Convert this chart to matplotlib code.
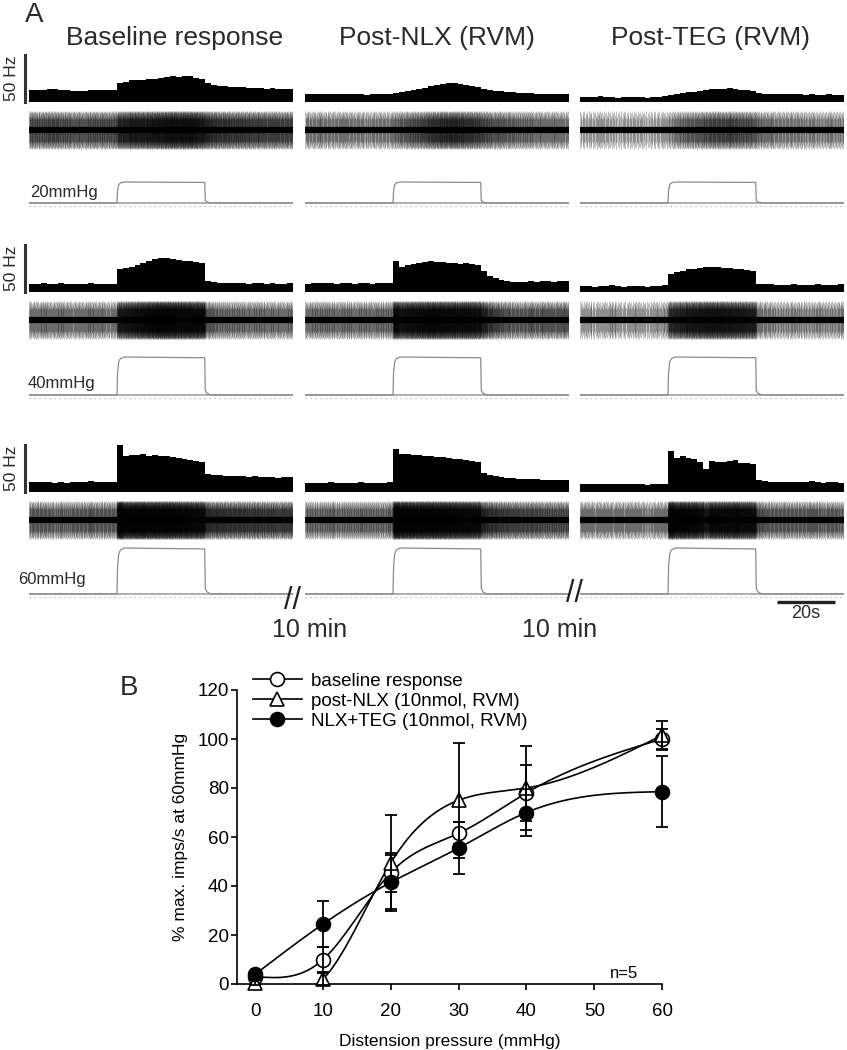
import numpy as np
import matplotlib
matplotlib.use('Agg')
import matplotlib.pyplot as plt
from matplotlib.lines import Line2D

plt.rcParams['font.family'] = ['Liberation Sans', 'DejaVu Sans']

# ---------------- panel A data (2-s bins, Hz), 90 s per sweep ----------------
bin_s = 2
stim_on, stim_off = 30, 60
col_titles = ['Baseline response', 'Post-NLX (RVM)', 'Post-TEG (RVM)']
row_pressures = [20, 40, 60]  # mmHg

rate_20_base = [13, 13, 13, 14, 14, 13, 13, 12, 12, 12, 13, 13, 13, 13, 13,
                20, 21, 23, 23, 23, 24, 25, 26, 27, 28, 27, 28, 28, 26, 24,
                20, 18, 17, 17, 16, 16, 16, 15, 15, 15, 14, 15, 14, 14, 14]
rate_20_nlx = [8, 8, 9, 8, 8, 8, 9, 8, 8, 8, 7, 8, 8, 8, 8,
               10, 11, 12, 13, 14, 15, 17, 18, 19, 20, 20, 19, 18, 17, 16,
               14, 13, 12, 12, 11, 11, 10, 10, 10, 9, 9, 9, 9, 9, 8]
rate_20_teg = [5, 5, 5, 6, 5, 5, 4, 5, 5, 5, 5, 4, 5, 5, 6,
               7, 9, 10, 11, 11, 12, 13, 14, 14, 14, 15, 14, 13, 13, 12,
               10, 9, 9, 8, 8, 8, 8, 8, 7, 8, 7, 7, 8, 7, 7]
rate_40_base = [9, 9, 10, 9, 9, 10, 9, 8, 9, 9, 10, 9, 9, 8, 9,
                24, 26, 27, 29, 31, 33, 35, 36, 36, 35, 34, 33, 33, 32, 31,
                12, 11, 10, 10, 10, 10, 10, 9, 10, 10, 9, 10, 9, 9, 10]
rate_40_nlx = [9, 10, 10, 10, 10, 9, 10, 10, 9, 10, 10, 9, 10, 10, 10,
               33, 27, 29, 30, 31, 32, 33, 32, 32, 31, 31, 30, 31, 30, 29,
               22, 17, 15, 13, 12, 11, 11, 11, 12, 11, 12, 12, 11, 12, 12]
rate_40_teg = [6, 6, 5, 6, 6, 7, 6, 5, 6, 6, 6, 5, 6, 6, 7,
               19, 21, 22, 24, 25, 26, 27, 27, 27, 26, 26, 25, 24, 23, 22,
               9, 8, 8, 7, 7, 7, 8, 7, 7, 7, 8, 7, 7, 7, 8]
rate_60_base = [11, 11, 11, 11, 10, 11, 10, 11, 11, 11, 12, 11, 11, 11, 11,
                50, 38, 39, 39, 40, 38, 39, 38, 38, 37, 36, 35, 34, 33, 32,
                19, 18, 18, 17, 17, 17, 17, 16, 17, 16, 16, 16, 15, 16, 16]
rate_60_nlx = [10, 10, 10, 10, 11, 10, 10, 10, 10, 11, 10, 10, 10, 10, 11,
               46, 40, 40, 39, 39, 38, 38, 37, 37, 36, 35, 35, 34, 33, 32,
               20, 18, 17, 16, 15, 15, 14, 14, 14, 14, 13, 13, 13, 13, 13]
rate_60_teg = [9, 9, 8, 9, 9, 8, 9, 8, 9, 9, 8, 7, 8, 9, 9,
               44, 36, 38, 36, 35, 32, 25, 33, 32, 32, 33, 34, 31, 31, 30,
               13, 12, 11, 11, 11, 11, 11, 11, 11, 12, 11, 10, 11, 11, 10]

rates = [[rate_20_base, rate_20_nlx, rate_20_teg],
         [rate_40_base, rate_40_nlx, rate_40_teg],
         [rate_60_base, rate_60_nlx, rate_60_teg]]

# balloon pressure trace shape (fraction of target pressure)
press_t = [0, 30, 30.2, 30.6, 31.2, 32.5, 45, 59.9, 60.1, 60.6, 62, 90]
press_frac = [0, 0, 0.6, 0.88, 0.96, 1.0, 0.99, 0.98, 0.12, 0.05, 0, 0]

# ---------------- panel B data ----------------
pressures = [0, 10, 20, 30, 40, 60]
base_mean = [3, 10, 45.5, 61.5, 78, 100]
base_sem = [1.5, 5, 8, 4.5, 11.5, 4]
nlx_mean = [0.5, 2, 49.5, 75, 80, 101.5]
nlx_sem = [1, 2.5, 19.5, 23.5, 17, 6]
teg_mean = [4, 24.5, 41.5, 55.5, 70, 78.5]
teg_sem = [1.5, 9.5, 11, 10.5, 9.5, 14.5]

# ---------------- layout (pixels) ----------------
W, H = 847, 1050
fig = plt.figure(figsize=(W / 100, H / 100), dpi=100)
txt = '#2a2a2a'


def px_axes(x0, y_top, w, h):
    ax = fig.add_axes([x0 / W, 1 - (y_top + h) / H, w / W, h / H])
    ax.set_axis_off()
    return ax


col_x0 = [29, 305, 580]
col_w = 264
span_s = 90
hist_base = [102, 292, 492]
hz_px = 47 / 50
raw_center = [130, 320, 520]
press_base = [203, 395, 594]
step_px = [21, 38, 46]


def spikes_from_rates(r):
    ts, amps = [], []
    amp_cycle = [1.0, 0.7, 0.9, 0.6, 0.95, 0.8, 0.65]
    k = 0
    for i, v in enumerate(r):
        n = int(round(v * bin_s))
        for j in range(n):
            ts.append(i * bin_s + (j + 0.5) * bin_s / n)
            amps.append(amp_cycle[k % len(amp_cycle)])
            k += 1
    return np.array(ts), np.array(amps)


for ri in range(3):
    s = step_px[ri] / row_pressures[ri]
    for ci in range(3):
        r = rates[ri][ci]
        x0 = col_x0[ci]
        # rate histogram
        hmax = 60
        ax = px_axes(x0, hist_base[ri] - hmax * hz_px, col_w, hmax * hz_px)
        ax.set_xlim(0, span_s)
        ax.set_ylim(0, hmax)
        t_left = np.arange(len(r)) * bin_s
        ax.bar(t_left, r, width=bin_s, align='edge', color='black', linewidth=0)
        ax.plot([0, span_s], [0, 0], color='#555', lw=0.8)
        if ci == 0:
            ax.plot([-1.5, -1.5], [0, 50], color='#333', lw=2.2, clip_on=False)
            ax.text(-6.0, 25, '50 Hz', rotation=90, ha='center', va='center',
                    fontsize=12.5, color=txt, clip_on=False)

        # raw extracellular trace
        ax = px_axes(x0, raw_center[ri] - 22, col_w, 44)
        ax.set_xlim(0, span_s)
        ax.set_ylim(-1.1, 1.1)
        ts, amps = spikes_from_rates(r)
        ax.vlines(ts, -amps * 0.95, amps * 0.95, color='black', lw=0.4,
                  alpha=0.45)
        ax.plot([0, span_s], [0, 0], color='black', lw=4.5, solid_capstyle='butt')

        # balloon pressure
        ax = px_axes(x0, press_base[ri] - 55, col_w, 67)
        ax.set_xlim(0, span_s)
        ax.set_ylim(-12 / s, 55 / s)
        ax.plot([0, span_s], [0, 0], color='#a8a8a8', lw=1.3)
        ax.plot([0, span_s], [-3 / s, -3 / s], color='#b0b0b0', lw=0.9,
                linestyle=(0, (1, 3)))
        ax.plot(press_t, np.array(press_frac) * row_pressures[ri], color='#8a8a8a',
                lw=0.9)
        if ri == 2 and ci == 2:
            ax.plot([67, 87], [-8 / s, -8 / s], color='#222', lw=2.4,
                    solid_capstyle='butt', clip_on=False)
            ax.text(77, -11 / s, '20s', ha='center', va='top', fontsize=13,
                    color=txt, clip_on=False)

# panel A texts
fig.text(25 / W, 1 - 15 / H, 'A', fontsize=20, va='center', ha='left', color=txt)
for x, t in zip([175, 437, 710], col_titles):
    fig.text(x / W, 1 - 45 / H, t, fontsize=19, ha='center', va='baseline',
             color=txt)
for (x, y), p in zip([(30, 197), (28, 388), (18, 584)], row_pressures):
    fig.text(x / W, 1 - y / H, f'{p}mmHg', fontsize=12, ha='left',
             va='baseline', color=txt)
for x, y in [(293, 601), (574, 594)]:
    fig.text(x / W, 1 - y / H, '//', fontsize=22, ha='center', va='center',
             color='#222')
for x in [310, 560]:
    fig.text(x / W, 1 - 637 / H, '10 min', fontsize=18, ha='center',
             va='baseline', color=txt)

# ---------------- panel B ----------------
def natural_spline(x, y, n=300):
    x = np.asarray(x, float)
    y = np.asarray(y, float)
    h = np.diff(x)
    m = len(x)
    A = np.zeros((m, m))
    b = np.zeros(m)
    A[0, 0] = A[-1, -1] = 1
    for i in range(1, m - 1):
        A[i, i - 1] = h[i - 1]
        A[i, i] = 2 * (h[i - 1] + h[i])
        A[i, i + 1] = h[i]
        b[i] = 3 * ((y[i + 1] - y[i]) / h[i] - (y[i] - y[i - 1]) / h[i - 1])
    c = np.linalg.solve(A, b)
    bb = (y[1:] - y[:-1]) / h - h * (2 * c[:-1] + c[1:]) / 3
    d = (c[1:] - c[:-1]) / (3 * h)
    xs = np.linspace(x[0], x[-1], n)
    k = np.clip(np.searchsorted(x, xs) - 1, 0, m - 2)
    dx = xs - x[k]
    return xs, y[k] + bb[k] * dx + c[k] * dx ** 2 + d[k] * dx ** 3


axb = fig.add_axes([237 / W, 1 - 984 / H, (662 - 237) / W, (984 - 690) / H])
axb.set_xlim(-2.7, 60)
axb.set_ylim(0, 120)

series = [
    (base_mean, base_sem, 'o', 'white', 'baseline response'),
    (nlx_mean, nlx_sem, '^', 'white', 'post-NLX (10nmol, RVM)'),
    (teg_mean, teg_sem, 'o', 'black', 'NLX+TEG (10nmol, RVM)'),
]
handles = []
for mean, sem, mk, fc, lab in series:
    xs, ys = natural_spline(pressures, mean)
    axb.plot(xs, ys, color='black', lw=1.2, zorder=2)
    axb.plot(pressures, mean, linestyle='none', marker=mk, mfc=fc, mec='black',
             ms=10, mew=1.2, zorder=3, clip_on=False)
    axb.errorbar(pressures, mean, yerr=sem, fmt='none', ecolor='black',
                 elinewidth=1.3, capsize=4.5, capthick=1.3, zorder=4,
                 clip_on=False)
    handles.append(Line2D([0], [0], color='black', lw=1.2, marker=mk, mfc=fc,
                          mec='black', ms=10, mew=1.2, label=lab))

axb.legend(handles=handles, loc='upper left', bbox_to_anchor=(0.02, 1.085),
           frameon=False, fontsize=13.5, handlelength=2.6, handletextpad=0.5,
           labelspacing=0.15, borderaxespad=0)

axb.set_xticks([0, 10, 20, 30, 40, 50, 60])
axb.set_yticks([0, 20, 40, 60, 80, 100, 120])
for sp in ['top', 'right']:
    axb.spines[sp].set_visible(False)
for sp in ['left', 'bottom']:
    axb.spines[sp].set_linewidth(1.2)
axb.tick_params(axis='both', direction='out', length=4, width=1.2,
                labelsize=13.5)
axb.tick_params(axis='x', pad=10)
axb.tick_params(axis='y', pad=2)
axb.set_xlabel('Distension pressure (mmHg)', fontsize=12.5, labelpad=10)
axb.set_ylabel('% max. imps/s at 60mmHg', fontsize=12.5, labelpad=7)
axb.text(52.3, 2.5, 'n=5', fontsize=12, va='baseline', ha='left')
fig.text(120 / W, 1 - 688 / H, 'B', fontsize=20, va='center', ha='left',
         color=txt)

fig.savefig('out.png', dpi=100)
